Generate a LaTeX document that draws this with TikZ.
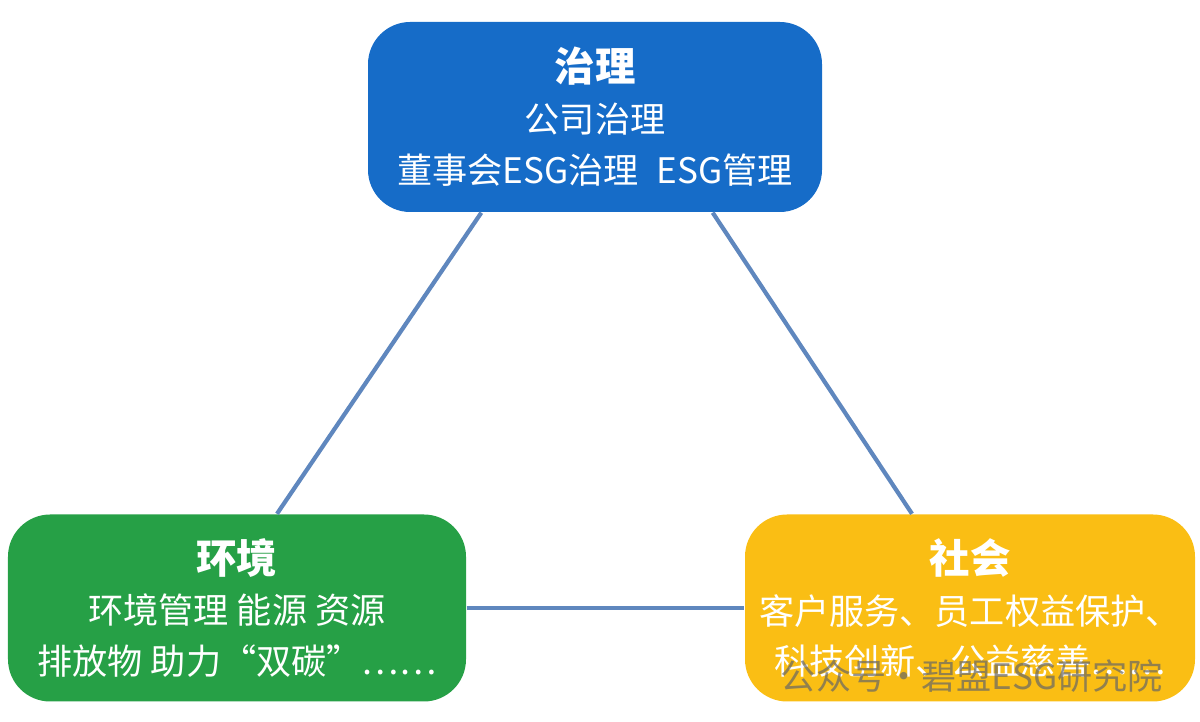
\documentclass[tikz,border=0pt]{standalone}
\usepackage{fontspec}
\newfontfamily\cjk{Noto Sans CJK SC}
\usetikzlibrary{positioning}
\definecolor{govblue}{RGB}{22,108,200}
\definecolor{envgreen}{RGB}{38,160,70}
\definecolor{socyellow}{RGB}{250,190,20}
\definecolor{linkblue}{RGB}{95,135,190}
\tikzset{pillar/.style={rounded corners=12pt, text=white, align=center, font=\cjk\fontsize{10pt}{14.5pt}\selectfont, inner sep=0pt}}
\newcommand{\ttl}[1]{{\bfseries\fontsize{11.5pt}{15pt}\selectfont #1}}
\begin{document}
\begin{tikzpicture}
\useasboundingbox (0,0) rectangle (12,7.22);
%pillars
\node[pillar, fill=govblue, minimum width=4.54cm, minimum height=1.9cm] (gov) at (5.95,6.05)
  {\ttl{治理}\\公司治理\\董事会ESG治理\enspace ESG管理};
\node[pillar, fill=envgreen, minimum width=4.58cm, minimum height=1.87cm] (env) at (2.37,1.14)
  {\ttl{环境}\\环境管理 能源 资源\\排放物 助力“双碳”……};
\node[pillar, fill=socyellow, minimum width=4.5cm, minimum height=1.87cm] (soc) at (9.70,1.14)
  {\ttl{社会}\\客户服务、员工权益保护、\\科技创新、公益慈善……};
%links
\draw[linkblue, line width=1.2pt] (gov.south west) ++(1.14,0) coordinate (g1) -- ([xshift=0.4cm]env.north);
\draw[linkblue, line width=1.2pt] (gov.south east) ++(-1.1,0) coordinate (g2) -- ([xshift=-0.58cm]soc.north);
\draw[linkblue, line width=1.2pt] (env) -- (soc);
%watermark
\node[font=\cjk\fontsize{10pt}{12pt}\selectfont, text=black!60, opacity=0.7] (wm) at (9.72,0.46) {公众号·碧盟ESG研究院};
\end{tikzpicture}
\end{document}
